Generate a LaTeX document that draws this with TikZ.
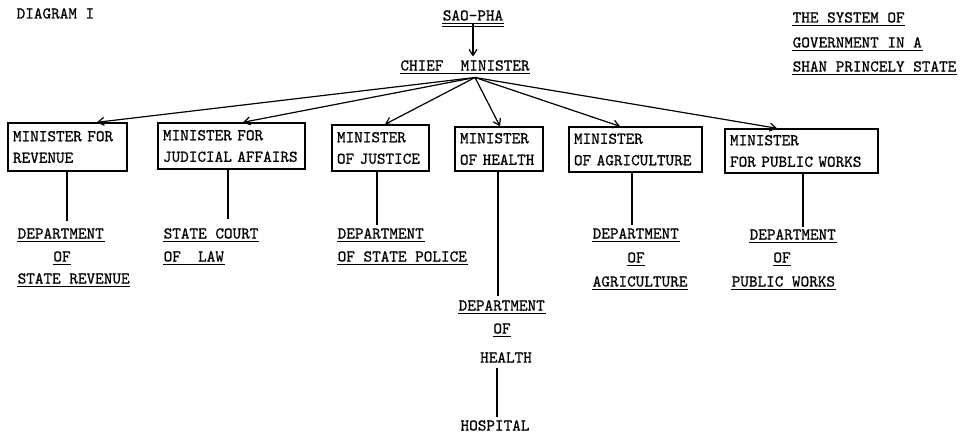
\documentclass[tikz,border=0pt]{standalone}
\usepackage{fontspec}
\usetikzlibrary{arrows.meta,calc}
\newfontfamily\twfam{lmmono10-regular.otf}[FakeBold=0.8]
\newcommand\twf{\twfam\fontsize{16.4pt}{21.5pt}\selectfont}
\tikzset{
  lbl/.style={font=\twf, inner xsep=0.5pt, inner ysep=2.8pt, text height=9pt, text depth=0pt, anchor=west},
  ul/.style={lbl, append after command={(\tikzlastnode.south west) edge[line width=1pt] (\tikzlastnode.south east)}},
  dul/.style={ul, append after command={([yshift=-3pt]\tikzlastnode.south west) edge[line width=1pt] ([yshift=-3pt]\tikzlastnode.south east)}},
  mbox/.style={draw, line width=1.4pt, font=\twf, align=left, inner xsep=5pt, inner ysep=0pt},
  conn/.style={line width=1.3pt},
  arr/.style={line width=1.2pt, -{Straight Barb[length=6pt,width=8pt,line width=1.2pt]}},
}
\begin{document}
\begin{tikzpicture}[x=1pt,y=-1pt]
\useasboundingbox (0,0) rectangle (960,436);

% header texts
\node[lbl] (diag) at (16,14) {DIAGRAM I};
\node[ul] (t1) at (792,18) {THE SYSTEM OF};
\node[ul] (t2) at (792,43) {GOVERNMENT IN A};
\node[ul] (t3) at (792,67) {SHAN PRINCELY STATE};

% top of hierarchy
\node[dul,anchor=center] (sp) at (473,16) {SAO-PHA};
\node[ul,anchor=center] (cm) at (465,66) {CHIEF\ \ MINISTER};
\draw[arr] (sp.south) -- ([yshift=2pt]sp.south |- cm.north);
\coordinate (hub) at ([xshift=10pt,yshift=-4pt]cm.south);

% minister boxes
\node[mbox, text width=109pt, minimum height=48pt] (b1) at (67.5,147) {MINISTER FOR\\REVENUE};
\node[mbox, text width=137pt, minimum height=46pt] (b2) at (231.5,146) {MINISTER FOR\\JUDICIAL AFFAIRS};
\node[mbox, text width=87pt, minimum height=46pt] (b3) at (380.5,148) {MINISTER\\OF JUSTICE};
\node[mbox, text width=78pt, minimum height=44pt] (b4) at (499,149) {MINISTER\\OF HEALTH};
\node[mbox, text width=123pt, minimum height=45pt] (b5) at (635.5,149.5) {MINISTER\\OF AGRICULTURE};
\node[mbox, text width=143pt, minimum height=44pt] (b6) at (801.5,151) {MINISTER\\FOR PUBLIC WORKS};

% arrows from the chief minister
\draw[arr] (hub) -- ([xshift=29.5pt]b1.north);
\draw[arr] (hub) -- ([xshift=11.5pt]b2.north);
\draw[arr] (hub) -- ([xshift=4.5pt]b3.north);
\draw[arr] (hub) -- ([xshift=1pt]b4.north);
\draw[arr] (hub) -- ([xshift=-15.5pt]b5.north);
\draw[arr] (hub) -- ([xshift=-24.5pt]b6.north);

% departments
\node[ul] (d1a) at (17,234) {DEPARTMENT};
\node[ul,anchor=center] (d1b) at (62,257) {OF};
\node[ul] (d1c) at (17,279) {STATE REVENUE};

\node[ul] (d2a) at (163,234) {STATE COURT};
\node[ul] (d2b) at (163,257) {OF\ \ LAW};

\node[ul] (d3a) at (337,234) {DEPARTMENT};
\node[ul] (d3b) at (337,257) {OF STATE POLICE};

\node[ul] (d4a) at (458,306) {DEPARTMENT};
\node[ul,anchor=center] (d4b) at (502,329) {OF};
\node[lbl,anchor=center] (d4c) at (506,358) {HEALTH};
\node[lbl,anchor=center] (hosp) at (495,426) {HOSPITAL};

\node[ul] (d5a) at (592,234) {DEPARTMENT};
\node[ul,anchor=center] (d5b) at (636,258) {OF};
\node[ul] (d5c) at (592,282) {AGRICULTURE};

\node[ul] (d6a) at (749,235) {DEPARTMENT};
\node[ul,anchor=center] (d6b) at (782,258) {OF};
\node[ul] (d6c) at (731,282) {PUBLIC WORKS};

% vertical links
\draw[conn] ([xshift=-0.5pt]b1.south) -- ([xshift=-0.5pt,yshift=6pt]b1.south |- d1a.north);
\draw[conn] ([xshift=-3.5pt]b2.south) -- ([xshift=-3.5pt,yshift=8pt]b2.south |- d2a.north);
\draw[conn] ([xshift=-3.5pt]b3.south) -- ([xshift=-3.5pt,yshift=2pt]b3.south |- d3a.north);
\draw[conn] ([xshift=-1pt]b4.south) -- ([xshift=-1pt,yshift=3pt]b4.south |- d4a.north);
\draw[conn] ([xshift=-3.5pt]b5.south) -- ([xshift=-3.5pt,yshift=2pt]b5.south |- d5a.north);
\draw[conn] ([xshift=1.5pt]b6.south) -- ([xshift=1.5pt,yshift=1pt]b6.south |- d6a.north);
\draw[conn] (d4c.south -| hosp.north) ++(2pt,-2pt) -- ([xshift=2pt,yshift=2pt]hosp.north);
\end{tikzpicture}
\end{document}
